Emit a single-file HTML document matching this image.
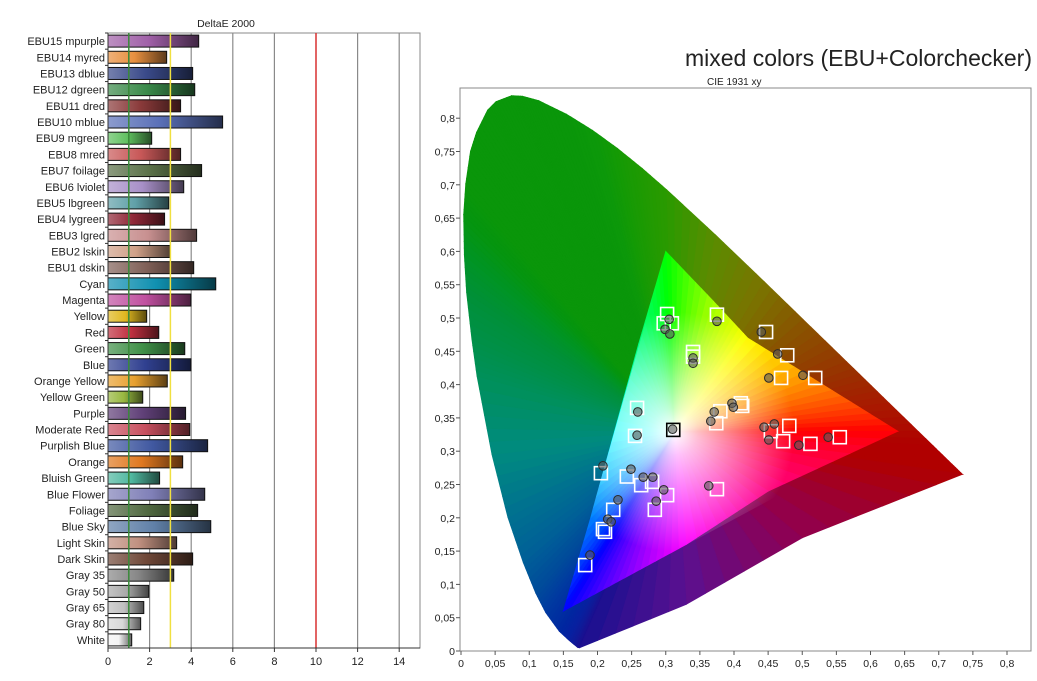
<!DOCTYPE html>
<html><head><meta charset="utf-8"><style>
body{margin:0;background:#fff;width:1037px;height:681px;overflow:hidden;font-family:"Liberation Sans",sans-serif}
svg{position:absolute;left:0;top:0}
</style></head><body>
<svg id="s" width="1037" height="681" xmlns="http://www.w3.org/2000/svg">
<defs id="defs"></defs>
<text x="226" y="27" font-size="10.5" text-anchor="middle" fill="#222">DeltaE 2000</text>
<text x="1032" y="66" font-size="23" text-anchor="end" fill="#222">mixed colors (EBU+Colorchecker)</text>
<text x="707" y="85" font-size="10" fill="#222">CIE 1931 xy</text>
<g id="bars"></g>
<g id="cie"></g>
</svg>
<script>
const labels=["EBU15 mpurple","EBU14 myred","EBU13 dblue","EBU12 dgreen","EBU11 dred","EBU10 mblue","EBU9 mgreen","EBU8 mred","EBU7 foilage","EBU6 lviolet","EBU5 lbgreen","EBU4 lygreen","EBU3 lgred","EBU2 lskin","EBU1 dskin","Cyan","Magenta","Yellow","Red","Green","Blue","Orange Yellow","Yellow Green","Purple","Moderate Red","Purplish Blue","Orange","Bluish Green","Blue Flower","Foliage","Blue Sky","Light Skin","Dark Skin","Gray 35","Gray 50","Gray 65","Gray 80","White"];
const deltaE=[4.36,2.82,4.07,4.17,3.49,5.51,2.1,3.49,4.5,3.64,2.92,2.72,4.26,2.98,4.12,5.18,3.98,1.86,2.44,3.69,3.98,2.85,1.67,3.73,3.93,4.79,3.59,2.48,4.65,4.31,4.94,3.3,4.07,3.16,1.96,1.72,1.57,1.14];
const barColors=["#a060a8","#e89040","#3a4a8a","#3a8a4a","#8a3a3a","#5a70b8","#60c060","#c85858","#5a7048","#a890c8","#60a0a8","#902838","#c89090","#d0a088","#806058","#1090b0","#c050a0","#e0b820","#c03040","#409048","#304090","#e8a030","#98b840","#604078","#c85060","#4058a0","#e07820","#50b8a0","#8080b8","#506840","#6080a8","#c09080","#704838","#888888","#aaaaaa","#c0c0c0","#d8d8d8","#f4f4f4"];
const deTicks=[0,2,4,6,8,10,12,14];
const targetX=[0.302,0.297,0.309,0.375,0.447,0.478,0.469,0.519,0.340,0.340,0.410,0.412,0.380,0.374,0.258,0.255,0.311,0.481,0.454,0.472,0.512,0.555,0.205,0.243,0.264,0.280,0.302,0.375,0.284,0.223,0.208,0.211,0.182];
const targetY=[0.506,0.492,0.492,0.505,0.479,0.444,0.410,0.410,0.449,0.442,0.372,0.368,0.360,0.342,0.365,0.323,0.332,0.338,0.330,0.315,0.311,0.321,0.267,0.262,0.249,0.254,0.234,0.243,0.212,0.212,0.183,0.179,0.129];
const measX=[0.305,0.299,0.306,0.375,0.440,0.464,0.451,0.501,0.340,0.340,0.397,0.399,0.371,0.366,0.259,0.258,0.310,0.459,0.444,0.451,0.495,0.538,0.208,0.249,0.267,0.281,0.297,0.363,0.286,0.230,0.215,0.220,0.189];
const measY=[0.498,0.483,0.476,0.495,0.479,0.446,0.410,0.414,0.440,0.432,0.372,0.366,0.359,0.345,0.359,0.324,0.333,0.341,0.336,0.317,0.309,0.321,0.278,0.273,0.261,0.261,0.242,0.248,0.225,0.227,0.198,0.194,0.144];
const xTicks=[0,0.05,0.1,0.15,0.2,0.25,0.3,0.35,0.4,0.45,0.5,0.55,0.6,0.65,0.7,0.75,0.8];
const yTicks=[0,0.05,0.1,0.15,0.2,0.25,0.3,0.35,0.4,0.45,0.5,0.55,0.6,0.65,0.7,0.75,0.8];

const NS="http://www.w3.org/2000/svg";
function mk(t,a,p){const e=document.createElementNS(NS,t);for(const k in a)e.setAttribute(k,a[k]);p.appendChild(e);return e;}
function hex(c){return [1,3,5].map(i=>parseInt(c.substr(i,2),16));}
function rgb(a){return "rgb("+a.map(v=>Math.round(Math.max(0,Math.min(255,v)))).join(",")+")";}
function mix(a,b,t){return a.map((v,i)=>v+(b[i]-v)*t);}
const defs=document.getElementById('defs');

// ---- bar chart
const B=document.getElementById('bars');
const L=108,R=420,T=33,BOT=648;
const sx=v=>L+v*20.8;
const rowH=(BOT-T)/labels.length;
const sy=i=>T+rowH*(i+0.5);
let fr=mk('rect',{x:L,y:T,width:R-L,height:BOT-T,fill:'#fff',stroke:'#888'},B);


deTicks.forEach(v=>{
 if(v>0&&v!==10){let g=mk('line',{x1:sx(v),x2:sx(v),y1:T,y2:BOT,stroke:'#8a8a8a','stroke-width':1.2},B);
 
 }
 let t=mk('text',{x:sx(v),y:BOT+17,'font-size':11,'text-anchor':'middle',fill:'#222'},B);t.textContent=v;
 
 
 mk('line',{x1:sx(v),x2:sx(v),y1:BOT,y2:BOT+4,stroke:'#333'},B);
});
labels.forEach((lab,i)=>{
 const c=hex(barColors[i]);
 const gid='bg'+i;
 const lg=mk('linearGradient',{id:gid,x1:0,x2:1,y1:0,y2:0},defs);
 mk('stop',{offset:0,'stop-color':rgb(mix(c,[255,255,255],0.3))},lg);
 mk('stop',{offset:0.45,'stop-color':rgb(c)},lg);
 mk('stop',{offset:1,'stop-color':rgb(mix(c,[0,0,0],0.6))},lg);
 let r=mk('rect',{x:sx(0),y:sy(i)-6,width:sx(deltaE[i])-sx(0),height:12,fill:'url(#'+gid+')',stroke:'#111','stroke-width':1},B);
 
 
 let t=mk('text',{x:L-3,y:sy(i)+4,'font-size':11,'text-anchor':'end',fill:'#222'},B);t.textContent=lab;
 
 
 mk('line',{x1:L-3,x2:L,y1:T+rowH*i,y2:T+rowH*i,stroke:'#333'},B);
});
[[1,'#3a8a3a'],[3,'#f0e040'],[10,'#d83030']].forEach(([v,c])=>{
 let l=mk('line',{x1:sx(v),x2:sx(v),y1:T,y2:BOT,stroke:c,'stroke-width':1.5},B);
 
 
});
mk('line',{x1:L,x2:L,y1:T,y2:BOT,stroke:'#333'},B);
mk('line',{x1:L,x2:R,y1:BOT,y2:BOT,stroke:'#333'},B);

// ---- CIE chart
const C=document.getElementById('cie');
const PL=460,PT=88,PR=1031,PB=651;
const cx=v=>461+v*682.5, cy=v=>651-v*666;
let pa=mk('rect',{x:PL,y:PT,width:PR-PL,height:PB-PT,fill:'#fff',stroke:'#888'},C);


const locus=[[0.1741,0.0050],[0.1714,0.0051],[0.1644,0.0109],[0.1566,0.0177],[0.1440,0.0297],[0.1241,0.0578],[0.1096,0.0868],[0.0913,0.1327],[0.0687,0.2007],[0.0454,0.2950],[0.0235,0.4127],[0.0160,0.4677],[0.0082,0.5384],[0.0049,0.5945],[0.0039,0.6548],[0.0069,0.7011],[0.0139,0.7502],[0.0227,0.7785],[0.0389,0.8120],[0.0515,0.8250],[0.0743,0.8338],[0.0900,0.8330],[0.1142,0.8262],[0.1547,0.8059],[0.1929,0.7816],[0.2296,0.7543],[0.2658,0.7243],[0.3016,0.6923],[0.3731,0.6245],[0.4441,0.5547],[0.5125,0.4866],[0.5752,0.4242],[0.6270,0.3725],[0.6915,0.3083],[0.7190,0.2809],[0.7347,0.2653]];
const locCol=["#1a1090","#1a1090","#101a98","#0820a0","#0028a0","#0038a0","#004a9a","#005e98","#007090","#008a80","#00905a","#009048","#009038","#009425","#05950f","#0a960a","#0a960a","#0a960a","#0a960a","#0a960a","#0a960a","#0a960a","#0a960a","#0a960a","#0c980a","#159a05","#209a02","#2a9a00","#5a8c00","#7a7400","#8a5000","#983200","#a81a00","#b00000","#b00000","#b00000"];
const W=[0.3127,0.329];
const fan=(pts,cols,n,g)=>{
 for(let i=0;i<pts.length-1;i++){
  const a=pts[i],b=pts[i+1],ca=hex(cols[i]),cb=hex(cols[i+1]);
  for(let k=0;k<n;k++){
   const t0=k/n,t1=(k+1)/n;
   const p0=[a[0]+(b[0]-a[0])*t0,a[1]+(b[1]-a[1])*t0],p1=[a[0]+(b[0]-a[0])*t1,a[1]+(b[1]-a[1])*t1];
   const col=rgb(mix(ca,cb,(t0+t1)/2));
   mk('polygon',{points:[W,p0,p1].map(p=>cx(p[0])+','+cy(p[1])).join(' '),fill:col,stroke:col,'stroke-width':0.8},g);
  }
 }
};
const outer=mk('g',{},C);


const loopPts=locus.concat([[0.50,0.17],[0.33,0.07],[0.1741,0.0050]]);
const loopCol=locCol.concat(["#900050","#5a1090","#1a1090"]);
fan(loopPts,loopCol,6,outer);
const inner=mk('g',{},C);


const tri=[[0.30,0.60],[0.37,0.525],[0.42,0.47],[0.53,0.4],[0.64,0.33],[0.45,0.24],[0.33,0.16],[0.24,0.11],[0.15,0.06],[0.19,0.2],[0.225,0.33],[0.26,0.46],[0.30,0.60]];
const triCol=["#00ff00","#a0ff00","#ffff00","#ff8000","#ff0000","#ff0080","#ff00ff","#8000ff","#0000ff","#0080ff","#00ffff","#00ff80","#00ff00"];
fan(tri,triCol,8,inner);
const rg=mk('radialGradient',{id:'wg',cx:cx(W[0]),cy:cy(W[1]),r:120,gradientUnits:'userSpaceOnUse'},defs);
mk('stop',{offset:0,'stop-color':'#fff','stop-opacity':1},rg);
mk('stop',{offset:0.2,'stop-color':'#fff','stop-opacity':0.75},rg);
mk('stop',{offset:1,'stop-color':'#fff','stop-opacity':0},rg);
mk('polygon',{points:[[0.64,0.33],[0.30,0.60],[0.15,0.06]].map(p=>cx(p[0])+','+cy(p[1])).join(' '),fill:'url(#wg)'},C);
// axes ticks
xTicks.forEach(v=>{
 mk('line',{x1:cx(v),x2:cx(v),y1:PB,y2:PB+4,stroke:'#555'},C);
 let t=mk('text',{x:cx(v),y:PB+16,'font-size':10.5,'text-anchor':'middle',fill:'#222'},C);
 t.textContent=String(v).replace('.',',');
 
 
});
yTicks.forEach(v=>{
 mk('line',{x1:PL-4,x2:PL,y1:cy(v),y2:cy(v),stroke:'#555'},C);
 let t=mk('text',{x:PL-5,y:cy(v)+4,'font-size':10.5,'text-anchor':'end',fill:'#222'},C);
 t.textContent=String(v).replace('.',',');
 
 
});
// points
targetX.forEach((x,i)=>{
 const white=(Math.abs(x-0.311)<0.002&&Math.abs(targetY[i]-0.332)<0.002);
 let r=mk('rect',{x:cx(x)-6.5,y:cy(targetY[i])-6.5,width:13,height:13,fill:'none',stroke:white?'#000':'#fff','stroke-width':1.6},C);
 
 
});
measX.forEach((x,i)=>{
 let c=mk('circle',{cx:cx(x),cy:cy(measY[i]),r:4.3,fill:'rgba(90,90,90,0.6)',stroke:'#2a2a2a','stroke-width':1},C);
 
 
});
</script>
</body></html>
